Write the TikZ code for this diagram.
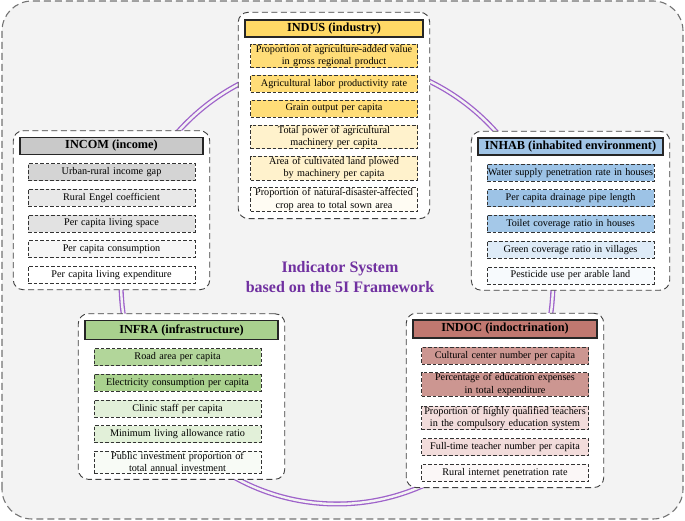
\documentclass[tikz,border=0pt]{standalone}
\usepackage{fontspec}
\setmainfont{Liberation Serif}
\usetikzlibrary{positioning,fit,backgrounds}

\definecolor{ringPurple}{RGB}{158,98,202}
\definecolor{sysPurple}{RGB}{112,48,160}
\definecolor{bgGray}{RGB}{243,243,243}

\begin{document}
\begin{tikzpicture}[x=1pt, y=1pt, node distance=8pt]
  % --- Styles: frame, ring, group boxes, titles and indicator boxes ---
    \tikzset{
      frame/.style = {draw=black!55, fill=bgGray, line width=1.1pt, dash pattern=on 7pt off 4pt, rounded corners=30pt},
      ring/.style  = {draw=ringPurple, line width=1.3pt, double=bgGray, double distance=2.4pt},
      grp/.style   = {draw=black!75, fill=white, line width=.9pt, dash pattern=on 6pt off 3.5pt, rounded corners=10pt, inner sep=6pt},
      ttl/.style   = {draw=black!85, line width=1.5pt, font=\bfseries\fontsize{12.3}{14}\selectfont, minimum height=17pt, inner sep=0pt},
      itm/.style   = {draw=black!80, line width=.7pt, dash pattern=on 3.5pt off 2pt, font={\fontsize{10.2}{12.3}\selectfont\hyphenpenalty=10000\relax},
                      align=center, text width=167pt, minimum height=17pt, inner xsep=0pt, inner ysep=1pt},
      sys/.style   = {text=sysPurple, font=\bfseries\fontsize{16}{19.5}\selectfont, align=center}
    }
    \useasboundingbox (0,0) rectangle (685,521);

    % --- Background frame and the 5I ring ---
    \begin{scope}[on background layer]
      \draw[frame] (2,2) rectangle (683,520);
      \coordinate (ctr) at (337,239);
      \draw[ring] (ctr) ellipse [x radius=216, y radius=222];
    \end{scope}

    \node[sys] (sysLab) at (340,244) {Indicator System\\based on the 5I Framework};

    % --- INDUS (industry) ---
    \node[ttl, fill={rgb,255:red,255;green,217;blue,102}, minimum width=178pt] (indus) at (334,492.5) {INDUS (industry)};
    \node[itm, fill={rgb,255:red,255;green,221;blue,120}, below=6pt of indus] (indus1) {Proportion of agriculture-added value\\in gross regional product};
    \node[itm, fill={rgb,255:red,255;green,221;blue,120}, below=7pt of indus1] (indus2) {Agricultural labor productivity rate};
    \node[itm, fill={rgb,255:red,255;green,221;blue,120}, below=7pt of indus2] (indus3) {Grain output per capita};
    \node[itm, fill={rgb,255:red,255;green,242;blue,204}, below=7pt of indus3] (indus4) {Total power of agricultural\\machinery per capita};
    \node[itm, fill={rgb,255:red,255;green,242;blue,204}, below=7pt of indus4] (indus5) {Area of cultivated land plowed\\by machinery per capita};
    \node[itm, fill={rgb,255:red,255;green,252;blue,243}, below=7pt of indus5] (indus6) {Proportion of natural-disaster-affected\\crop area to total sown area};

    % --- INCOM (income) ---
    \node[ttl, fill={rgb,255:red,201;green,201;blue,201}, minimum width=183pt] (incom) at (111.5,375) {INCOM (income)};
    \node[itm, fill={rgb,255:red,212;green,212;blue,212}, below=of incom] (incom1) {Urban-rural income gap};
    \node[itm, fill={rgb,255:red,232;green,232;blue,232}, below=of incom1] (incom2) {Rural Engel coefficient};
    \node[itm, fill={rgb,255:red,226;green,226;blue,226}, below=of incom2] (incom3) {Per capita living space};
    \node[itm, fill={rgb,255:red,246;green,246;blue,246}, below=of incom3] (incom4) {Per capita consumption};
    \node[itm, fill=white, below=of incom4] (incom5) {Per capita living expenditure};

    % --- INHAB (inhabited environment) ---
    \node[ttl, fill={rgb,255:red,160;green,196;blue,230}, minimum width=185pt] (inhab) at (570.5,374.5) {INHAB (inhabited environment)};
    \node[itm, fill={rgb,255:red,157;green,195;blue,230}, below=of inhab] (inhab1) {Water supply penetration rate in houses};
    \node[itm, fill={rgb,255:red,157;green,195;blue,230}, below=of inhab1] (inhab2) {Per capita drainage pipe length};
    \node[itm, fill={rgb,255:red,164;green,200;blue,232}, below=of inhab2] (inhab3) {Toilet coverage ratio in houses};
    \node[itm, fill={rgb,255:red,222;green,235;blue,247}, below=of inhab3] (inhab4) {Green coverage ratio in villages};
    \node[itm, fill={rgb,255:red,247;green,250;blue,253}, below=of inhab4] (inhab5) {Pesticide use per arable land};

    % --- INFRA (infrastructure) ---
    \node[ttl, fill={rgb,255:red,169;green,209;blue,142}, minimum width=193pt, minimum height=19pt] (infra) at (181.5,191) {INFRA (infrastructure)};
    \node[itm, fill={rgb,255:red,178;green,214;blue,154}, below=of infra, xshift=-4pt] (infra1) {Road area per capita};
    \node[itm, fill={rgb,255:red,169;green,209;blue,142}, below=of infra1] (infra2) {Electricity consumption per capita};
    \node[itm, fill={rgb,255:red,226;green,240;blue,217}, below=of infra2] (infra3) {Clinic staff per capita};
    \node[itm, fill={rgb,255:red,226;green,240;blue,217}, below=of infra3] (infra4) {Minimum living allowance ratio};
    \node[itm, fill={rgb,255:red,248;green,251;blue,246}, below=of infra4] (infra5) {Public investment proportion of\\total annual investment};

    % --- INDOC (indoctrination) ---
    \node[ttl, fill={rgb,255:red,192;green,120;blue,112}, minimum width=184pt, minimum height=18pt] (indoc) at (505,192) {INDOC (indoctrination)};
    \node[itm, fill={rgb,255:red,204;green,150;blue,145}, below=of indoc] (indoc1) {Cultural center number per capita};
    \node[itm, fill={rgb,255:red,204;green,150;blue,145}, below=of indoc1] (indoc2) {Percentage of education expenses\\in total expenditure};
    \node[itm, fill={rgb,255:red,242;green,220;blue,219}, below=9pt of indoc2] (indoc3) {Proportion of highly qualified teachers\\in the compulsory education system};
    \node[itm, fill={rgb,255:red,242;green,220;blue,219}, below=of indoc3] (indoc4) {Full-time teacher number per capita};
    \node[itm, fill={rgb,255:red,251;green,247;blue,247}, below=of indoc4] (indoc5) {Rural internet penetration rate};

    % --- Group boxes (behind titles and indicators, above the ring) ---
    \begin{scope}[on background layer]
      \node[grp, fit=(indus)(indus6), inner ysep=7pt] (indusG) {};
      \node[grp, fit=(incom)(incom5)] (incomG) {};
      \node[grp, fit=(inhab)(inhab5)] (inhabG) {};
      \node[grp, fit=(infra)(infra5)] (infraG) {};
      \node[grp, fit=(indoc)(indoc5)] (indocG) {};
    \end{scope}

\end{tikzpicture}
\end{document}
